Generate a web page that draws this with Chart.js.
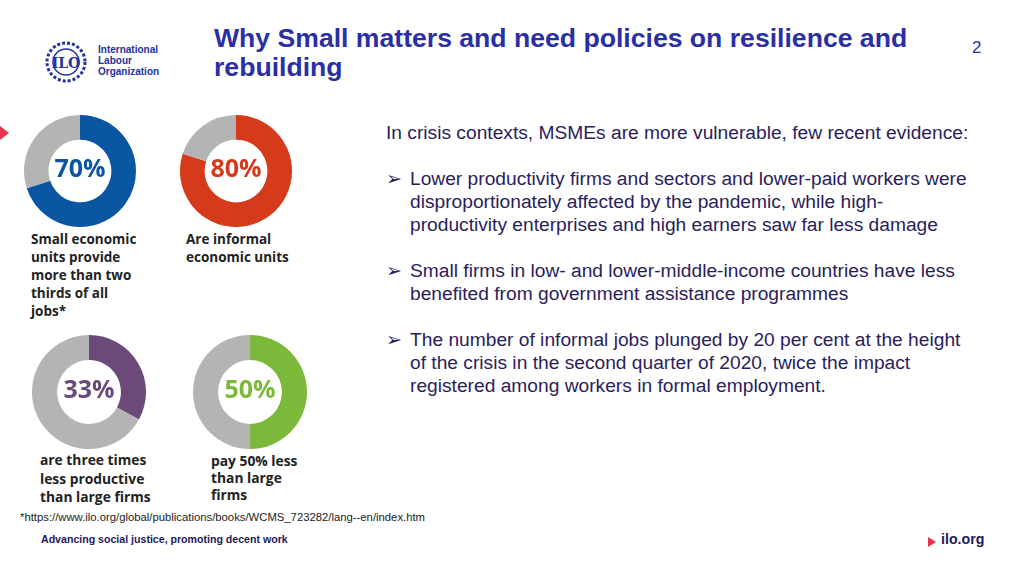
<!DOCTYPE html>
<html>
<head>
<meta charset="utf-8">
<script src="https://cdn.jsdelivr.net/npm/chart.js@4.4.1/dist/chart.umd.min.js"></script>
<style>
  html,body{margin:0;padding:0;background:#fff;}
  #slide{position:relative;width:1024px;height:576px;overflow:hidden;font-family:"Liberation Sans",Arial,sans-serif;}
  .abs{position:absolute;}
  .title{left:214px;top:24px;width:740px;font-size:26.6px;line-height:29px;font-weight:bold;color:#2b2fa6;}
  .pageno{left:972px;top:38px;font-size:17px;color:#2b2fa6;}
  .logo-txt{left:98px;top:44px;font-size:10px;line-height:11px;color:#2432a0;font-weight:bold;}
  .body{left:386px;font-size:19.2px;line-height:23px;color:#2a1d5c;white-space:nowrap;}
  .bul{left:386px;font-size:19px;color:#2a1d5c;}
  .cap{font-family:"Open Sans",sans-serif;font-weight:700;font-size:13.5px;line-height:18px;color:#222;}
  .url{left:20px;top:511px;font-size:11.3px;color:#222;}
  .foot{left:41px;top:533px;font-size:10.6px;font-weight:bold;color:#1f1a5a;}
  .ilo{left:941px;top:531px;font-size:14.2px;font-weight:bold;color:#231b5a;}
  canvas{position:absolute;}
</style>
</head>
<body>
<div id="slide">
  <!-- logo emblem (rough) -->
  <svg class="abs" style="left:40px;top:40px" width="52" height="44">
    <circle cx="26" cy="22" r="19" fill="none" stroke="#2432a0" stroke-width="3" stroke-dasharray="3 2"/>
    <circle cx="26" cy="22" r="13" fill="none" stroke="#2432a0" stroke-width="1.5"/>
    <text x="26" y="28" text-anchor="middle" font-family="DejaVu Serif" font-size="14" font-weight="bold" fill="#2432a0">ILO</text>
  </svg>
  <div class="abs logo-txt">International<br>Labour<br>Organization</div>

  <div class="abs title">Why Small matters and need policies on resilience and<br>rebuilding</div>
  <div class="abs pageno">2</div>

  <svg class="abs" style="left:0;top:126px" width="10" height="14"><polygon points="0,0 9,7 0,14" fill="#e8344a"/></svg>

  <div class="abs body" style="top:121px">In crisis contexts, MSMEs are more vulnerable, few recent evidence:</div>

  <div class="abs bul" style="top:167px">&#10146;</div>
  <div class="abs body" style="left:410px;top:167px">Lower productivity firms and sectors and lower-paid workers were<br>disproportionately affected by the pandemic, while high-<br>productivity enterprises and high earners saw far less damage</div>

  <div class="abs bul" style="top:259px">&#10146;</div>
  <div class="abs body" style="left:410px;top:259px">Small firms in low- and lower-middle-income countries have less<br>benefited from government assistance programmes</div>

  <div class="abs bul" style="top:328px">&#10146;</div>
  <div class="abs body" style="left:410px;top:328px">The number of informal jobs plunged by 20 per cent at the height<br>of the crisis in the second quarter of 2020, twice the impact<br>registered among workers in formal employment.</div>

  <canvas id="d0"></canvas>
  <canvas id="d1"></canvas>
  <canvas id="d2"></canvas>
  <canvas id="d3"></canvas>

  <div class="abs cap" id="c0" style="left:31px;top:230px"></div>
  <div class="abs cap" id="c1" style="left:186px;top:230px"></div>
  <div class="abs cap" id="c2" style="left:40px;top:451px;font-size:13.8px;line-height:18.5px"></div>
  <div class="abs cap" id="c3" style="left:211px;top:452px;font-size:13.8px;line-height:17px"></div>

  <div class="abs url">*https://www.ilo.org/global/publications/books/WCMS_723282/lang--en/index.htm</div>
  <div class="abs foot">Advancing social justice, promoting decent work</div>
  <svg class="abs" style="left:928px;top:537px" width="8" height="10"><polygon points="0,0 8,5 0,10" fill="#e8344a"/></svg>
  <div class="abs ilo">ilo.org</div>
</div>

<script>
// share of each headline figure (percent), rest is shown in grey
const sharePct = [70, 80, 33, 50];
const shareRest = sharePct.map(v => 100 - v);
const captions = [
  ["Small economic", "units provide", "more than two", "thirds of all", "jobs*"],
  ["Are informal", "economic units"],
  ["are three times", "less productive", "than large firms"],
  ["pay 50% less", "than large", "firms"]
];

const DONUT_COLORS = ["#0b56a2", "#d53b1a", "#6b4a7a", "#7bb93b"];
const GREY = "#b4b4b4";
// canvas box: left, top, size
const DONUT_BOX = [[24, 115, 112], [180, 115, 112], [32, 335, 114], [193, 335, 114]];

const centerText = {
  id: "centerText",
  afterDraw(chart){
    const {ctx} = chart;
    const arc = chart.getDatasetMeta(0).data[0];
    if(!arc) return;
    const v = chart.data.datasets[0].data[0];
    ctx.save();
    ctx.font = "700 25px 'Open Sans', sans-serif";
    ctx.fillStyle = chart.data.datasets[0].backgroundColor[0];
    ctx.textAlign = "center";
    ctx.textBaseline = "middle";
    ctx.fillText(v + "%", arc.x, arc.y - 1);
    ctx.restore();
  }
};

sharePct.forEach((v, i) => {
  const c = document.getElementById("d" + i);
  const [l, t, s] = DONUT_BOX[i];
  c.style.left = l + "px"; c.style.top = t + "px";
  c.width = s; c.height = s;
  new Chart(c, {
    type: "doughnut",
    data: { labels: ["share", "rest"], datasets: [{
      data: [v, shareRest[i]],
      backgroundColor: [DONUT_COLORS[i], GREY],
      borderWidth: 0, hoverOffset: 0, offset: 0
    }]},
    options: { responsive: false, animation: false, cutout: "56%",
      layout: { padding: 0 },
      plugins: { legend: { display: false }, tooltip: { enabled: false } } },
    plugins: [centerText]
  });
  document.getElementById("c" + i).innerHTML = captions[i].join("<br>");
});
</script>
</body>
</html>
